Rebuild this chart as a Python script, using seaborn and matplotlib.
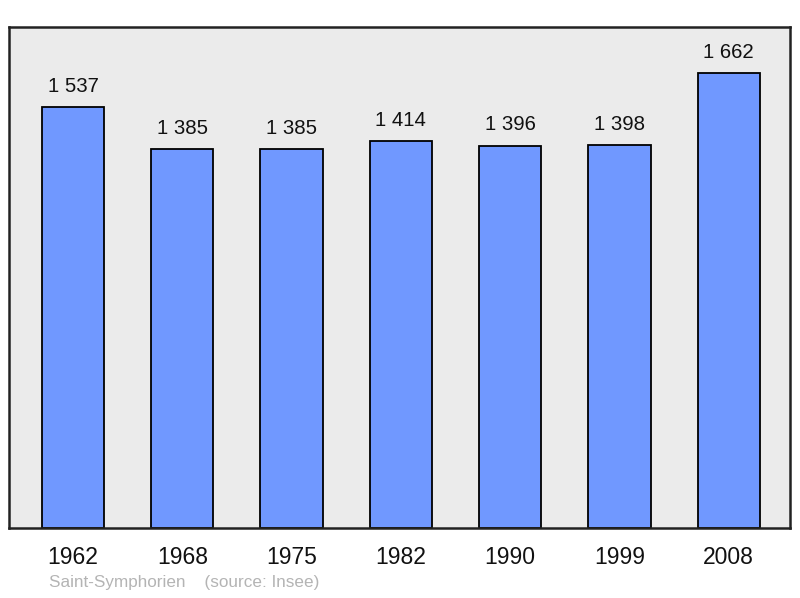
import matplotlib.pyplot as plt
import pandas as pd
import seaborn as sns

# Population data
years = ["1962", "1968", "1975", "1982", "1990", "1999", "2008"]
population = [1537, 1385, 1385, 1414, 1396, 1398, 1662]
labels = ["1 537", "1 385", "1 385", "1 414", "1 396", "1 398", "1 662"]

df = pd.DataFrame({"year": years, "population": population})

sns.set_style("white")
plt.rcParams["font.family"] = ["Liberation Sans", "DejaVu Sans"]

fig = plt.figure(figsize=(8, 5.98), dpi=100)
ax = fig.add_axes([9 / 800, 1 - 528 / 598, 781 / 800, 501 / 598])
ax.set_facecolor("#ebebeb")

sns.barplot(data=df, x="year", y="population", color="#7098ff", saturation=1,
            width=0.57, edgecolor="black", linewidth=1.3, ax=ax)

for i, (v, lab) in enumerate(zip(population, labels)):
    ax.annotate(lab, (i, v), xytext=(0, 8), textcoords="offset points",
                ha="center", va="bottom", fontsize=14.7, color="#111111")

ax.set_xlim(-0.585, 6.56)
ax.set_ylim(0, 1829)
ax.set_yticks([])
ax.set_xlabel("")
ax.set_ylabel("")
ax.tick_params(axis="x", length=0, labelsize=16.5, pad=13, labelcolor="#111111")
for s in ax.spines.values():
    s.set_visible(True)
    s.set_color("#222222")
    s.set_linewidth(1.8)

fig.text(49 / 800, 1 - 583 / 598, "Saint-Symphorien    (source: Insee)",
         fontsize=12.3, color="#b4b4b4", va="center", ha="left")

fig.savefig("out.png", dpi=100, facecolor="white")
